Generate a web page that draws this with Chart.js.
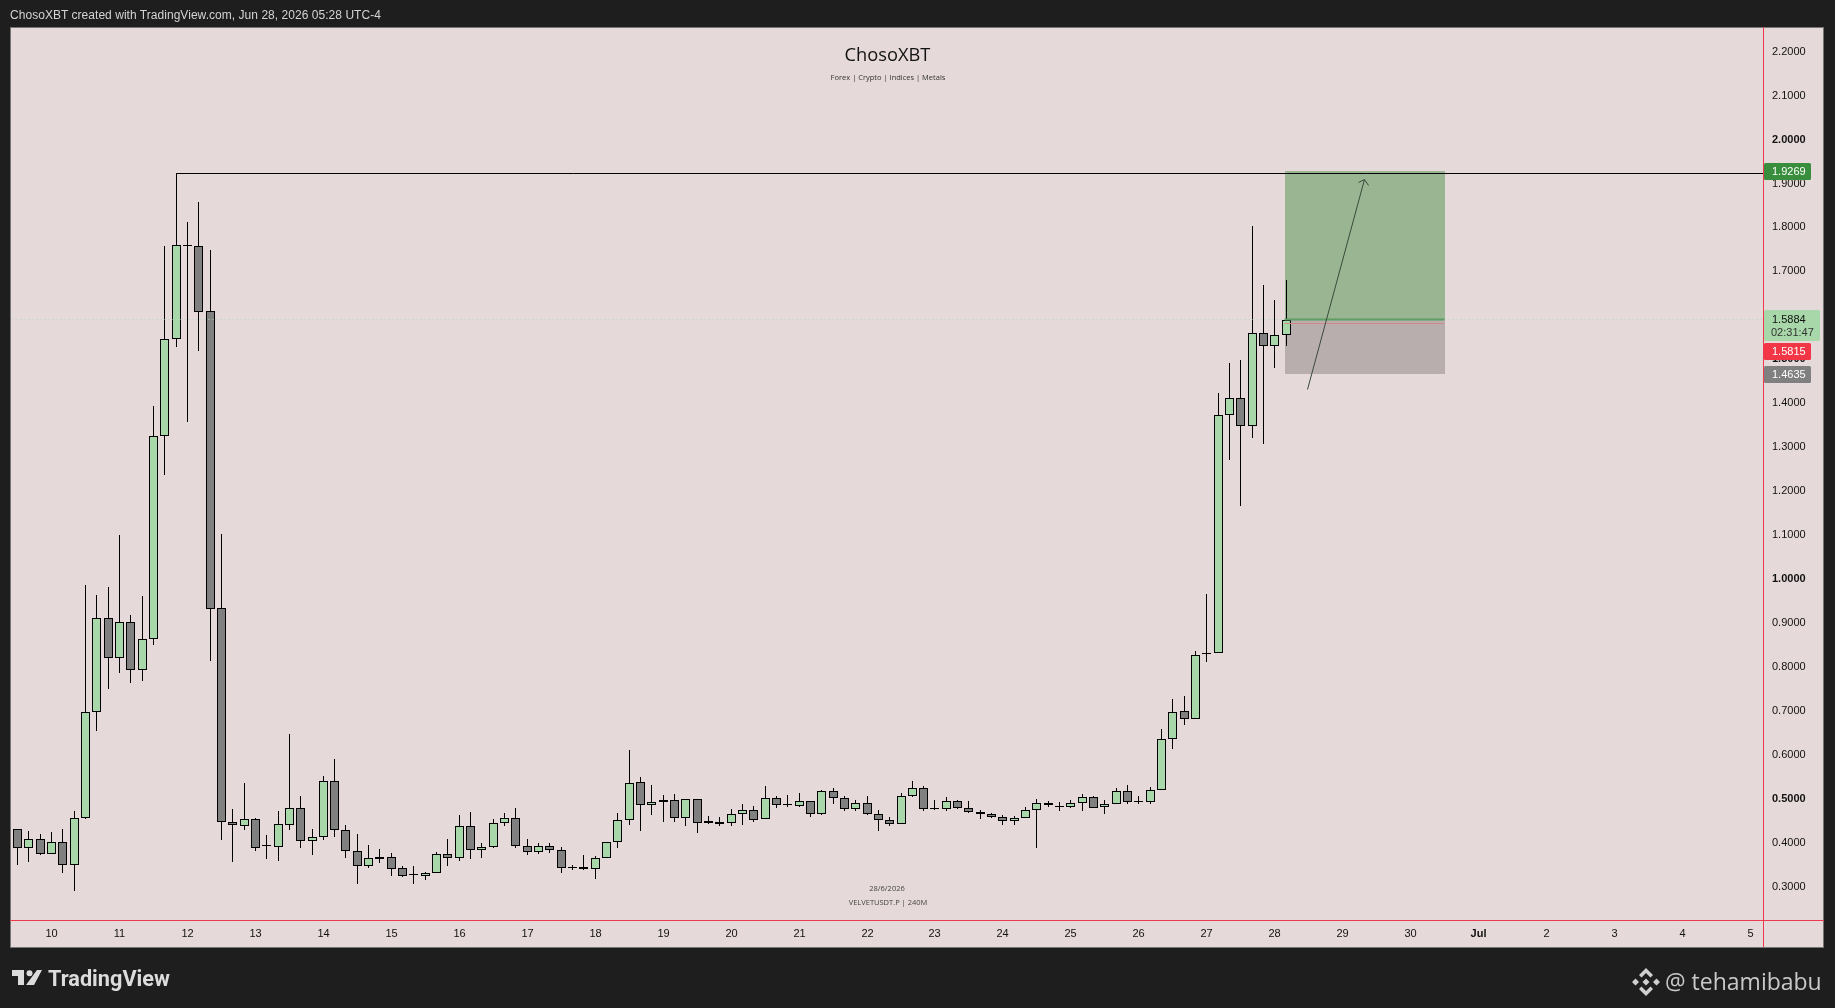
<!DOCTYPE html>
<html>
<head>
<meta charset="utf-8">
<script src="https://cdn.jsdelivr.net/npm/chart.js@4"></script>
<style>
html,body{margin:0;padding:0;background:#1e1e1e;width:1835px;height:1008px;overflow:hidden}
canvas{position:absolute;left:0;top:0}
.t{position:absolute;white-space:nowrap;line-height:1}
.c{transform:translate(-50%,-50%)}
</style>
</head>
<body>
<canvas id="c" width="1835" height="1008" style="width:1835px;height:1008px"></canvas>
<div class="t" style="left:10px;top:8px;font:12px 'Liberation Sans';color:#d4d4d4;letter-spacing:.04px">ChosoXBT created with TradingView.com, Jun 28, 2026 05:28 UTC-4</div>
<div class="t c" style="left:887.5px;top:53px;font:18.3px 'Open Sans';color:#111">ChosoXBT</div>
<div class="t c" style="left:888px;top:77px;font:7.5px 'Open Sans';color:#333">Forex | Crypto | Indices | Metals</div>
<div class="t c" style="left:887px;top:888px;font:7.5px 'Open Sans';color:#444">28/6/2026</div>
<div class="t c" style="left:888px;top:902px;font:7.5px 'Open Sans';color:#444">VELVETUSDT.P | 240M</div>
<svg style="position:absolute;left:12px;top:970px" width="30" height="15" viewBox="0 0 30 15"><path d="M0 0H12V15H6V6H0Z M25 0H30L22 15H14Z" fill="#dcdcdc"/><circle cx="17.5" cy="3.2" r="3" fill="#dcdcdc"/></svg>
<div class="t" style="left:48px;top:966px;font:700 21.7px Roboto;color:#dcdcdc">TradingView</div>
<svg style="position:absolute;left:1632px;top:968px" width="28" height="28" viewBox="0 0 28 28" fill="#d0d0d0"><path d="M14 0L21 7L18.5 9.5L14 5L9.500 9.500L7 7Z M14 28L21 21L18.500 18.500L14 23L9.500 18.500L7 21Z M3.500 10.500L7 14L3.500 17.500L0 14Z M24.500 10.500L28 14L24.500 17.500L21 14Z M14 10.500L17.500 14L14 17.500L10.500 14Z"/></svg>
<div class="t" style="left:1665px;top:965px;font:23px 'Open Sans';color:#c9c9c9">@ tehamibabu</div>
<script>
const opens=[.430,.387,.407,.373,.400,.348,.455,.696,.909,.818,.899,.790,.861,1.323,1.543,1.757,1.755,1.607,.931,.444,.437,.451,.390,.389,.439,.476,.401,.410,.538,.428,.380,.346,.362,.366,.340,.324,.323,.328,.372,.363,.435,.381,.388,.442,.454,.390,.376,.390,.381,.342,.342,.338,.363,.399,.449,.535,.483,.490,.494,.454,.497,.442,.446,.442,.463,.472,.451,.499,.483,.481,.492,.463,.515,.499,.474,.488,.463,.449,.440,.504,.522,.474,.474,.492,.476,.467,.463,.456,.447,.454,.472,.488,.481,.479,.488,.501,.479,.485,.515,.490,.490,.519,.633,.697,.679,.829,.829,1.371,1.409,1.345,1.557,1.528,1.553];
const highs=[.430,.425,.417,.422,.429,.469,.984,.962,.980,1.098,.916,.959,1.392,1.756,1.921,1.810,1.856,1.747,1.100,.474,.533,.454,.416,.469,.645,.504,.429,.549,.588,.438,.417,.392,.383,.374,.344,.344,.331,.376,.406,.460,.467,.397,.451,.465,.476,.406,.397,.397,.388,.347,.369,.367,.399,.465,.610,.547,.529,.506,.508,.497,.497,.458,.456,.474,.485,.481,.526,.504,.506,.510,.492,.519,.522,.504,.494,.504,.472,.456,.510,.538,.526,.494,.501,.494,.492,.472,.465,.460,.458,.479,.497,.492,.490,.494,.508,.504,.494,.522,.529,.504,.524,.656,.724,.731,.834,.963,1.421,1.489,1.496,1.800,1.666,1.632,1.678];
const lows=[.347,.353,.369,.373,.330,.287,.453,.653,.747,.783,.762,.766,.848,1.235,1.525,1.356,1.517,.812,.405,.355,.426,.378,.362,.357,.426,.387,.370,.405,.410,.364,.305,.341,.352,.323,.321,.305,.314,.328,.346,.357,.362,.364,.385,.437,.387,.371,.373,.375,.330,.335,.335,.316,.363,.387,.439,.425,.460,.446,.446,.435,.419,.441,.435,.435,.439,.444,.451,.476,.479,.480,.457,.462,.485,.469,.469,.460,.425,.435,.440,.501,.469,.472,.471,.474,.465,.453,.454,.439,.439,.454,.385,.480,.469,.476,.471,.476,.464,.485,.485,.485,.485,.519,.611,.665,.679,.808,.829,1.268,1.163,1.318,1.304,1.477,1.527];
const closes=[.387,.407,.373,.400,.348,.455,.696,.909,.818,.899,.790,.861,1.323,1.543,1.757,1.755,1.606,.929,.444,.439,.451,.387,.390,.440,.476,.401,.410,.538,.428,.380,.346,.363,.366,.339,.323,.324,.329,.372,.364,.435,.381,.388,.442,.454,.391,.376,.390,.381,.340,.341,.338,.363,.399,.449,.533,.483,.490,.494,.454,.497,.442,.447,.441,.463,.472,.449,.499,.483,.483,.492,.463,.515,.499,.474,.488,.463,.449,.440,.504,.522,.474,.474,.492,.476,.467,.463,.456,.447,.454,.472,.488,.483,.480,.488,.501,.478,.485,.515,.490,.490,.519,.633,.695,.679,.824,.827,1.370,1.409,1.345,1.557,1.528,1.553,1.588];
const dayLabels=['10','11','12','13','14','15','16','17','18','19','20','21','22','23','24','25','26','27','28','29','30','Jul','2','3','4','5'];
const boldDays=['Jul'];
const yBold=[2,1.5,1,.5];
const resistanceX=[14,154.1],resistanceY=[1.921,1.921];
const priceLineX=[-0.4,154.1],priceLineY=[1.5884,1.5884];
const entryX=[111.9,125.95],entryY=[1.5884,1.5884],bidY=[1.5815,1.5815];
const arrowX=[113.93,118.9],arrowY=[1.431,1.908];
const headX=[118.39,118.9,119.27],headY=[1.901,1.908,1.8955];
const targetPrice=1.9269,stopPrice=1.4635;

const pts=(xs,ys)=>xs.map((x,i)=>({x,y:ys[i]}));
const idx=opens.map((_,i)=>i);
const up=idx.map(i=>closes[i]>=opens[i]);
const line=(data,color,width,order,dash)=>({type:'line',data,borderColor:color,borderWidth:width,borderDash:dash||[],pointRadius:0,tension:0,order,fill:false});

const panel={id:'panel',
 afterDataLimits(chart,args){
  const s=args.scale; if(s._snapped) return; s._snapped=true;
  const o=s.getPixelForValue.bind(s);
  s.getPixelForValue=s.axis==='x'?(v=>Math.floor(o(v))+0.5):(v=>Math.round(o(v)));
 },
 beforeDraw(chart){
  const c=chart.ctx; c.save();
  c.fillStyle='#e6d9d9'; c.fillRect(10,27,1814,921);
  c.strokeStyle='#757575'; c.lineWidth=1; c.strokeRect(10.5,27.5,1813,920);
  c.restore();
 },
 beforeDatasetsDraw(chart){
  const c=chart.ctx,x=chart.scales.x,y=chart.scales.y;
  const l=Math.round(x.getPixelForValue(entryX[0])),r=Math.round(x.getPixelForValue(entryX[1]));
  const t=y.getPixelForValue(targetPrice),m=y.getPixelForValue(entryY[0]),b=y.getPixelForValue(stopPrice);
  c.save();
  c.fillStyle='#99b591'; c.fillRect(l,t,r-l,m-t);
  c.fillStyle='#b8aeae'; c.fillRect(l,m,r-l,b-m);
  c.restore();
 },
 beforeDatasetDraw(chart,args){
  if(chart.data.datasets[args.index].type==='line'){chart.ctx.save();chart.ctx.translate(0,.5);}
 },
 afterDatasetDraw(chart,args){
  if(chart.data.datasets[args.index].type==='line'){chart.ctx.restore();}
 },
 afterDraw(chart){
  const c=chart.ctx,y=chart.scales.y;
  const ax=chart.chartArea.right,by=chart.chartArea.bottom;
  c.save();
  c.fillStyle='#ee3a4c';
  c.fillRect(ax,27,1,920);
  c.fillRect(10,by,1814,1);
  const tag=(yy,h,w,bg)=>{c.fillStyle=bg;c.beginPath();c.roundRect(ax+1,yy,w,h,1.5);c.fill();};
  c.font="11px 'Liberation Sans'";c.textBaseline='middle';c.textAlign='left';
  const tx=ax+9;
  let p=y.getPixelForValue(targetPrice);
  tag(p-8,17,47,'#388e3c');c.fillStyle='#fff';c.fillText(targetPrice.toFixed(4),tx,p+.5);
  p=y.getPixelForValue(priceLineY[0]);
  tag(p-9,31,56,'#a8d7a9');c.fillStyle='#111';c.fillText(priceLineY[0].toFixed(4),tx,p+.5);
  c.fillStyle='#333';c.fillText('02:31:47',tx-1,p+14);
  p=y.getPixelForValue(bidY[0]);
  tag(p+20,17,47,'#f23645');c.fillStyle='#fff';c.fillText(bidY[0].toFixed(4),tx,p+29);
  p=y.getPixelForValue(stopPrice);
  tag(p-8,17,47,'#808080');c.fillStyle='#fff';c.fillText(stopPrice.toFixed(4),tx,p+.5);
  c.restore();
 }
};

new Chart(document.getElementById('c'),{
 type:'bar',
 plugins:[panel],
 data:{datasets:[
  {type:'bar',data:idx.map(i=>({x:i,y:[lows[i],highs[i]]})),backgroundColor:'#000',borderWidth:0,barThickness:1,grouped:false,order:5,inflateAmount:0},
  {type:'bar',data:idx.map(i=>({x:i,y:[opens[i],closes[i]]})),backgroundColor:idx.map(i=>up[i]?'#a8d7a9':'#808080'),borderColor:'#000',borderWidth:1,borderSkipped:false,barThickness:9,minBarLength:1,grouped:false,order:4,inflateAmount:0},
  line(pts(priceLineX,priceLineY),'#b9d8b4',1,3,[1,3]),
  line(pts(entryX,entryY),'#5c9e63',2,2),
  line(pts(entryX,bidY),'#d08a86',1,2),
  line(pts(resistanceX,resistanceY),'#000',1,1),
  line(pts(arrowX,arrowY),'#3a4a3c',1,1),
  line(pts(headX,headY),'#3a4a3c',1,1)
 ]},
 options:{
  responsive:false,animation:false,devicePixelRatio:1,
  layout:{padding:{left:10,right:11,top:27,bottom:61}},
  plugins:{legend:{display:false},tooltip:{enabled:false},title:{display:false}},
  scales:{
   x:{type:'linear',min:-0.662,max:154.1,offset:false,
    grid:{display:false,drawTicks:false},border:{display:false},
    afterBuildTicks(s){s.ticks=dayLabels.map((_,k)=>({value:3+6*k}));},
    afterFit(s){s.height=27;},
    ticks:{autoSkip:false,maxRotation:0,padding:7,color:'#111',
     callback:(v,i)=>dayLabels[i],
     font:ctx=>({family:"Liberation Sans",size:11,weight:(ctx.tick&&boldDays.includes(dayLabels[ctx.index]))?'bold':'normal'})}
   },
   y:{type:'linear',position:'right',min:0.2221,max:2.2539,
    grid:{display:false,drawTicks:false},border:{display:false},
    afterFit(s){s.width=61;},
    ticks:{stepSize:.1,includeBounds:false,padding:9,labelOffset:1,color:'#111',
     callback:v=>Number(v).toFixed(4),
     font:ctx=>({family:"Liberation Sans",size:11,weight:(ctx.tick&&yBold.some(b=>Math.abs(b-ctx.tick.value)<1e-6))?'bold':'normal'})}
   }
  }
 }
});
</script>
</body>
</html>
